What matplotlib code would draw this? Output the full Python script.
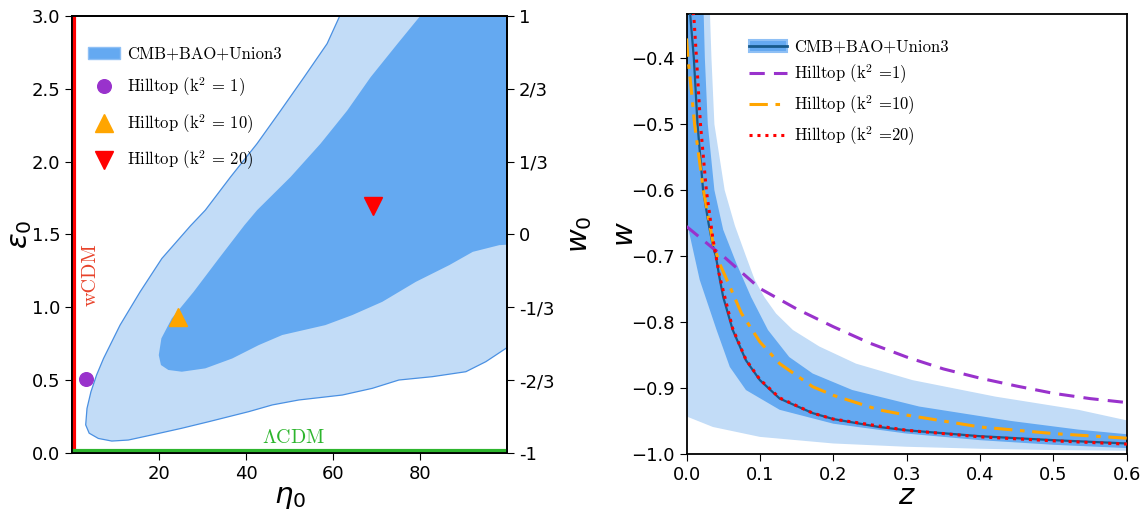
import numpy as np
import matplotlib
matplotlib.use('Agg')
import matplotlib.pyplot as plt
from matplotlib.patches import Patch
from matplotlib.lines import Line2D

# colours
light_blue = '#c2dcf7'
dark_blue = '#64a9f1'
edge_blue = '#4a90e2'
navy = '#175a8c'

# ---- left panel: (eta0, eps0) confidence regions, boundary
outer_eta = [62.5, 61.5, 58.6, 53.3, 47.9, 42.5, 36.4, 30.6, 27.2, 20.6, 15.6, 11.0, 7.2, 5.6,
             4.3, 3.4, 3.1, 3.9, 6.0, 9.1, 12.9, 18.3, 25.2, 31.4, 40.6, 46.0, 52.1, 62.1,
             69.0, 75.1, 82.8, 90.5, 95.1, 99.7, 103.0, 104.0]
outer_eps = [3.10, 3.00, 2.81, 2.58, 2.35, 2.124, 1.895, 1.667, 1.56, 1.335, 1.106, 0.878, 0.649, 0.535,
             0.42, 0.306, 0.193, 0.136, 0.10, 0.082, 0.089, 0.124, 0.17, 0.215, 0.284, 0.33, 0.364, 0.398,
             0.444, 0.501, 0.524, 0.558, 0.627, 0.718, 0.80, 3.10]
inner_eta = [81.5, 80.0, 74.8, 68.6, 63.2, 57.1, 50.2, 42.5, 39.6, 33.7, 27.9, 22.9, 20.5, 19.9,
             20.4, 22.1, 25.2, 30.6, 36.8, 42.9, 48.3, 58.2, 64.4, 71.3, 79.0, 86.7, 92.1, 98.2,
             100.0, 104.0, 104.0]
inner_eps = [3.10, 3.00, 2.81, 2.58, 2.35, 2.124, 1.895, 1.667, 1.564, 1.335, 1.106, 0.924, 0.787, 0.672,
             0.604, 0.57, 0.558, 0.581, 0.649, 0.741, 0.81, 0.878, 0.947, 1.038, 1.175, 1.29, 1.381, 1.427,
             1.43, 1.45, 3.10]

hill_eta = [3.1, 24.3, 69.2]
hill_eps = [0.51, 0.935, 1.694]
hill_labels_left = [r'Hilltop (k$^2$ = 1)', r'Hilltop (k$^2$ = 10)', r'Hilltop (k$^2$ = 20)']
wcdm_eta = 0.4
lcdm_eps = 0.012

eps_ticks = [0.0, 0.5, 1.0, 1.5, 2.0, 2.5, 3.0]
w0_labels = ['-1', '-2/3', '-1/3', '0', '1/3', '2/3', '1']
eta_ticks = [20, 40, 60, 80]

# ---- right panel: w(z)
z_fid = [0.005, 0.010, 0.015, 0.0226, 0.030, 0.036, 0.040, 0.045, 0.050, 0.063, 0.081, 0.100,
         0.127, 0.172, 0.200, 0.262, 0.300, 0.400, 0.500, 0.600]
w_fid = [-0.333, -0.40, -0.50, -0.60, -0.650, -0.685, -0.70, -0.733, -0.762, -0.812, -0.858, -0.888,
         -0.916, -0.938, -0.947, -0.959, -0.964, -0.973, -0.979, -0.984]

z_k1 = [0.0, 0.036, 0.05, 0.10, 0.15, 0.20, 0.25, 0.30, 0.35, 0.40, 0.45, 0.50, 0.55, 0.60]
w_k1 = [-0.655, -0.688, -0.700, -0.749, -0.780, -0.807, -0.832, -0.853, -0.871, -0.885, -0.897,
        -0.908, -0.916, -0.922]
z_k10 = [0.0, 0.002, 0.007, 0.011, 0.023, 0.036, 0.045, 0.059, 0.075, 0.100, 0.127, 0.172,
         0.200, 0.262, 0.300, 0.400, 0.500, 0.600]
w_k10 = [-0.37, -0.40, -0.453, -0.50, -0.60, -0.679, -0.711, -0.746, -0.787, -0.830, -0.863, -0.898,
         -0.911, -0.933, -0.941, -0.959, -0.969, -0.976]
z_k20 = [0.009, 0.010, 0.0136, 0.019, 0.027, 0.036, 0.045, 0.063, 0.081, 0.100, 0.127, 0.172,
         0.200, 0.300, 0.400, 0.500, 0.600]
w_k20 = [-0.33, -0.337, -0.40, -0.50, -0.60, -0.674, -0.730, -0.810, -0.857, -0.887, -0.915, -0.938,
         -0.947, -0.964, -0.974, -0.980, -0.985]

# 95% band edges
z_95_up = [0.028, 0.032, 0.034, 0.038, 0.052, 0.066, 0.081, 0.093, 0.106, 0.122, 0.145, 0.181,
           0.231, 0.308, 0.421, 0.534, 0.600]
w_95_up = [-0.28, -0.333, -0.40, -0.50, -0.60, -0.654, -0.70, -0.736, -0.762, -0.787, -0.812, -0.837,
           -0.863, -0.888, -0.913, -0.933, -0.949]
z_95_lo = [0.0, 0.036, 0.10, 0.20, 0.30, 0.40, 0.50, 0.60]
w_95_lo = [-0.943, -0.959, -0.974, -0.984, -0.989, -0.992, -0.994, -0.995]
# 68% band edges
z_68_up = [0.022, 0.0235, 0.025, 0.029, 0.038, 0.050, 0.068, 0.088, 0.111, 0.140, 0.172, 0.226,
           0.317, 0.443, 0.534, 0.600]
w_68_up = [-0.30, -0.337, -0.40, -0.50, -0.60, -0.66, -0.711, -0.762, -0.812, -0.853, -0.878, -0.903,
           -0.928, -0.950, -0.963, -0.970]
z_68_lo = [0.0, 0.003, 0.018, 0.041, 0.059, 0.081, 0.127, 0.20, 0.30, 0.40, 0.50, 0.60]
w_68_lo = [-0.64, -0.661, -0.736, -0.812, -0.868, -0.903, -0.933, -0.954, -0.969, -0.979, -0.986, -0.991]

w_ticks = [-1.0, -0.9, -0.8, -0.7, -0.6, -0.5, -0.4]
z_ticks = [0.0, 0.1, 0.2, 0.3, 0.4, 0.5, 0.6]

plt.rcParams['axes.linewidth'] = 1.3
serif = {'family': 'cmr10', 'size': 12, 'math_fontfamily': 'cm'}

fig = plt.figure(figsize=(11.48, 5.11), dpi=100)
ax = fig.add_axes([0.0629, 0.1135, 0.3789, 0.8552])
axr = fig.add_axes([0.598, 0.1115, 0.3836, 0.861])

# ---------------- left panel
ax.fill(outer_eta, outer_eps, facecolor=light_blue, edgecolor=edge_blue, lw=0.9, zorder=1)
ax.fill(inner_eta, inner_eps, facecolor=dark_blue, edgecolor='none', zorder=2)
ax.axvline(wcdm_eta, color='red', lw=3, zorder=3)
ax.axhline(lcdm_eps, color='#2db52d', lw=3, zorder=3)
ax.text(4.2, 1.226, 'wCDM', color='#e8422a', rotation=90, ha='center', va='center',
        fontsize=14.5, family='cmr10')
ax.text(50.8, 0.106, r'$\Lambda$CDM', color='#2db52d', ha='center', va='center',
        fontsize=14.4, family='cmr10', math_fontfamily='cm')

markers = ['o', '^', 'v']
mcolors = ['darkorchid', 'orange', 'red']
msizes = [9.8, 13, 13]
handles = [Patch(facecolor=dark_blue, edgecolor='#8fc0f5', lw=1)]
for e, p, m, c, s in zip(hill_eta, hill_eps, markers, mcolors, msizes):
    ax.plot(e, p, marker=m, color=c, ms=s, ls='none', zorder=5)
    handles.append(Line2D([], [], marker=m, color=c, ms=s, ls='none'))
ax.legend(handles, ['CMB+BAO+Union3'] + hill_labels_left, loc='upper left',
          bbox_to_anchor=(0.021, 0.945), frameon=False, prop=serif,
          handlelength=1.9, handletextpad=0.45, labelspacing=0.8, borderaxespad=0)

ax.set_xlim(0, 100)
ax.set_ylim(0, 3)
ax.set_xticks(eta_ticks)
ax.set_yticks(eps_ticks)
ax.set_yticklabels([f'{v:.1f}' for v in eps_ticks])
ax.tick_params(labelsize=13, length=5)
ax.set_xlabel(r'$\eta_0$', fontsize=21, labelpad=0)
ax.set_ylabel(r'$\varepsilon_0$', fontsize=21, labelpad=-2)

ax2 = ax.twinx()
ax2.set_ylim(0, 3)
ax2.set_yticks(eps_ticks)
ax2.set_yticklabels(w0_labels)
ax2.tick_params(labelsize=13, length=5)
ax2.set_ylabel(r'$w_0$', fontsize=21, labelpad=8)

# ---------------- right panel
axr.fill(np.concatenate([[0.0], z_95_up, z_95_lo[::-1]]),
         np.concatenate([[w_95_up[0]], w_95_up, w_95_lo[::-1]]),
         facecolor=light_blue, edgecolor='none', zorder=1)
axr.fill(np.concatenate([[0.0], z_68_up, z_68_lo[::-1]]),
         np.concatenate([[w_68_up[0]], w_68_up, w_68_lo[::-1]]),
         facecolor=dark_blue, edgecolor='none', zorder=2)
l_fid, = axr.plot(z_fid, w_fid, color=navy, lw=1.6, zorder=3)
l1, = axr.plot(z_k1, w_k1, color='darkorchid', lw=2.2, ls=(0, (5, 3)), zorder=4)
l10, = axr.plot(z_k10, w_k10, color='orange', lw=2.2, ls=(0, (6, 2.5, 1.5, 2.5)), zorder=4)
l20, = axr.plot(z_k20, w_k20, color='red', lw=2.2, ls=(0, (1, 1.6)), zorder=5)

band_handle = (Patch(facecolor=dark_blue, edgecolor='#8fc0f5', lw=1.5),
               Line2D([], [], color=navy, lw=2))
axr.legend([band_handle, l1, l10, l20],
           ['CMB+BAO+Union3', r'Hilltop (k$^2$ =1)', r'Hilltop (k$^2$ =10)', r'Hilltop (k$^2$ =20)'],
           loc='upper left', bbox_to_anchor=(0.126, 0.957), frameon=False, prop=serif,
           handlelength=2.3, handletextpad=0.45, labelspacing=0.45, borderaxespad=0)

axr.set_xlim(0, 0.6)
axr.set_ylim(-1.0, -0.333)
axr.set_xticks(z_ticks)
axr.set_yticks(w_ticks)
axr.tick_params(labelsize=13, length=5)
axr.set_xlabel(r'$z$', fontsize=21, labelpad=-1)
axr.set_ylabel(r'$w$', fontsize=21, labelpad=-6)

fig.savefig('out.png', dpi=100)
